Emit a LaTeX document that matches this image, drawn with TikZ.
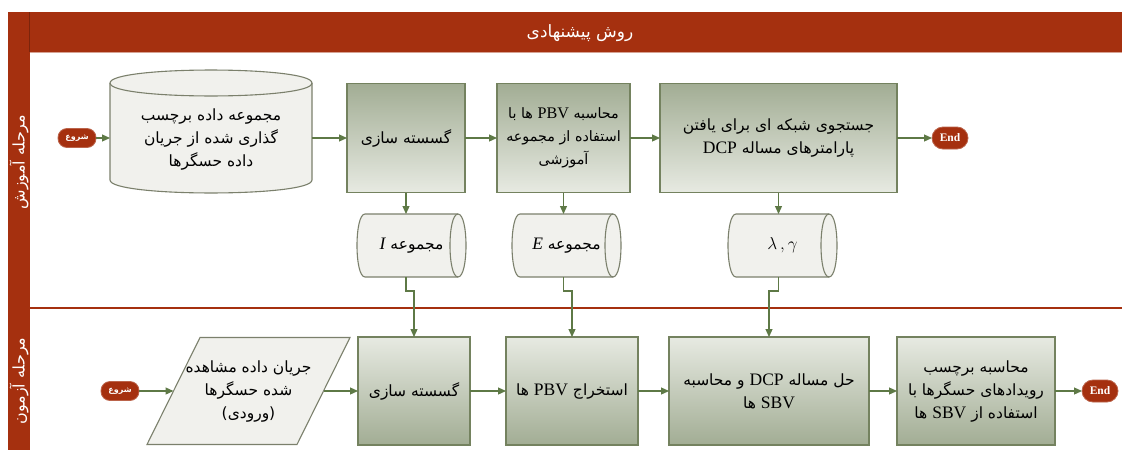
\documentclass[tikz,border=0pt]{standalone}
\usepackage{fontspec}
\setmainfont{Liberation Serif}
\newfontfamily\latinfont{Liberation Serif}[Scale=1.13]
\newfontfamily\arabicfont[Script=Arabic]{DejaVu Sans}
\TeXXeTstate=1
\usetikzlibrary{arrows.meta,calc,backgrounds}

\definecolor{band}{HTML}{A5300F}
\definecolor{boxdark}{HTML}{A2AD94}
\definecolor{boxlight}{HTML}{E7EAE2}
\definecolor{boxline}{HTML}{74825F}
\definecolor{flow}{HTML}{5E7946}
\definecolor{store}{HTML}{F1F1ED}
\definecolor{storeline}{HTML}{7B806C}

% Persian (right-to-left) text and embedded Latin words
\newcommand\fa[1]{{\arabicfont\beginR #1\endR}}
\newcommand\lat[1]{\beginL{\latinfont #1}\endL}

\begin{document}
\begin{tikzpicture}[x=1pt,y=-1pt,
  every node/.style={inner sep=0pt, outer sep=0pt},
  txt/.style={align=center, font=\fontsize{15.5}{23}\selectfont},
  procdown/.style={txt, draw=boxline, line width=1.3pt,
    top color=boxdark, bottom color=boxlight,
    minimum width=#1, minimum height=109},
  procup/.style={txt, draw=boxline, line width=1.3pt,
    top color=boxlight, bottom color=boxdark,
    minimum width=#1, minimum height=108},
  frame/.style={txt, minimum width=#1},
  storeshape/.style={fill=store, draw=storeline, line width=1.1pt},
  pill/.style={fill=band, draw=band!75!white, line width=0.8pt,
    rounded corners=9pt, minimum width=#1, minimum height=19,
    text=white},
  startpill/.style={pill=38, font=\fontsize{8}{10}\selectfont\bfseries},
  endpill/.style={pill=36, minimum height=22, rounded corners=11pt,
    font=\fontsize{11.5}{12}\selectfont\bfseries},
  flow/.style={draw=flow, line width=1.2pt,
    -{Triangle[length=8pt,width=7pt]}},
  lane/.style={text=white, rotate=90, font=\fontsize{16}{18}\selectfont},
]
\useasboundingbox (0,0) rectangle (1122,450);
\begin{pgfonlayer}{background}
  \fill[white] (0,0) rectangle (1122,450);
\end{pgfonlayer}

% swimlane frame
\fill[band] (8,12) rectangle (1122,52);
\fill[band] (8,12) rectangle (30,450);
\draw[band!75!black, line width=0.6pt] (29.5,12) -- (29.5,52);
\draw[band!45!white, line width=0.6pt] (30,52.5) -- (1122,52.5);
\draw[band, line width=1.5pt] (30,308) -- (1122,308);

\node[text=white, font=\fontsize{17}{20}\selectfont] (title) at (580,33)
  {\fa{روش پیشنهادی}};
\node[lane] (laneA) at (19,162) {\fa{مرحله آموزش}};
\node[lane] (laneB) at (19,381) {\fa{مرحله آزمون}};

% ---------- training lane ----------
\node[startpill] (start1) at (77,138) {\fa{شروع}};

\node[frame=202, minimum height=114] (cyl1) at (211,140)
  {\fa{مجموعه داده برچسب}\\ \fa{گذاری شده از جریان}\\ \fa{داده حسگرها}};
\begin{pgfonlayer}{background}
  \draw[storeshape] (cyl1.north west)
    -- ($(cyl1.south west)+(0,-17)$)
    .. controls +(0,17.3) and +(0,17.3) .. ($(cyl1.south east)+(0,-17)$)
    -- (cyl1.north east)
    .. controls +(0,-17.3) and +(0,-17.3) .. (cyl1.north west) -- cycle;
  \draw[storeshape, fill=none] (cyl1.north west)
    .. controls +(0,17.3) and +(0,17.3) .. (cyl1.north east);
\end{pgfonlayer}

\node[procdown=118] (box1) at (406,138) {\fa{گسسته سازی}};
\node[procdown=133, font=\fontsize{14.3}{23}\selectfont] (box2) at (563.5,138)
  {\fa{محاسبه \lat{PBV} ها با}\\ \fa{استفاده از مجموعه}\\ \fa{آموزشی}};
\node[procdown=237] (box3) at (778.5,138)
  {\fa{جستجوی شبکه ای برای یافتن}\\ \fa{پارامترهای مساله \lat{DCP}}};
\node[endpill] (end1) at (950,138) {End};

% stored results, drawn as drums lying on their side
\node[frame=93, minimum height=63] (cylI) at (411.5,245.5)
  {\fa{مجموعه \lat{\itshape I}}};
\node[frame=93, minimum height=63] (cylE) at (566.5,245.5)
  {\fa{مجموعه \lat{\itshape E}}};
\node[frame=93, minimum height=63, font=\fontsize{17}{18}\selectfont] (cylL) at (782.5,245.5)
  {$\lambda\,,\gamma$};
\begin{pgfonlayer}{background}
  \foreach \d in {cylI,cylE,cylL}{
    \draw[storeshape] (\d.north west)
      .. controls +(-10.7,0) and +(-10.7,0) .. (\d.south west)
      -- (\d.south east)
      .. controls +(10.7,0) and +(10.7,0) .. (\d.north east) -- cycle;
    \draw[storeshape, fill=none] (\d.north east)
      .. controls +(-10.7,0) and +(-10.7,0) .. (\d.south east);
  }
\end{pgfonlayer}

\draw[flow] (start1.east) -- (start1.east -| cyl1.west);
\draw[flow] (cyl1.east |- box1) -- (box1.west);
\draw[flow] (box1.east) -- (box2.west);
\draw[flow] (box2.east) -- (box3.west);
\draw[flow] (box3.east) -- (end1.west);
\draw[flow] (box1.south) -- (box1.south |- cylI.north);
\draw[flow] (box2.south) -- (box2.south |- cylE.north);
\draw[flow] (box3.south) -- (box3.south |- cylL.north);

% ---------- test lane ----------
\node[startpill] (start2) at (120,391) {\fa{شروع}};

\node[frame=203, minimum height=107] (para) at (248.5,391)
  {\fa{جریان داده مشاهده}\\ \fa{شده حسگرها}\\ \fa{(ورودی)}};
\begin{pgfonlayer}{background}
  \draw[storeshape] ($(para.north west)+(53,0)$) -- (para.north east)
    -- ($(para.south east)+(-53,0)$) -- (para.south west) -- cycle;
\end{pgfonlayer}
\coordinate (paraIn) at ($(para.west)+(26.5,0)$);
\coordinate (paraOut) at ($(para.east)+(-26.5,0)$);

\node[procup=112] (bbox1) at (414,391) {\fa{گسسته سازی}};
\node[procup=132] (bbox2) at (572,391) {\fa{استخراج \lat{PBV} ها}};
\node[procup=200] (bbox3) at (769,391)
  {\fa{حل مساله \lat{DCP} و محاسبه}\\ \fa{\lat{SBV} ها}};
\node[procup=158] (bbox4) at (976,391)
  {\fa{محاسبه برچسب}\\ \fa{رویدادهای حسگرها با}\\ \fa{استفاده از \lat{SBV} ها}};
\node[endpill] (end2) at (1100,391) {End};

\draw[flow] (start2.east) -- (paraIn);
\draw[flow] (paraOut) -- (bbox1.west);
\draw[flow] (bbox1.east) -- (bbox2.west);
\draw[flow] (bbox2.east) -- (bbox3.west);
\draw[flow] (bbox3.east) -- (bbox4.west);
\draw[flow] (bbox4.east) -- (end2.west);

% results feeding the test lane
\draw[flow] (box1.south |- cylI.south) -- ++(0,14) -| (bbox1.north);
\draw[flow] (box2.south |- cylE.south) -- ++(0,14) -| (bbox2.north);
\draw[flow] (box3.south |- cylL.south) -- ++(0,14) -| (bbox3.north);
\end{tikzpicture}
\end{document}
